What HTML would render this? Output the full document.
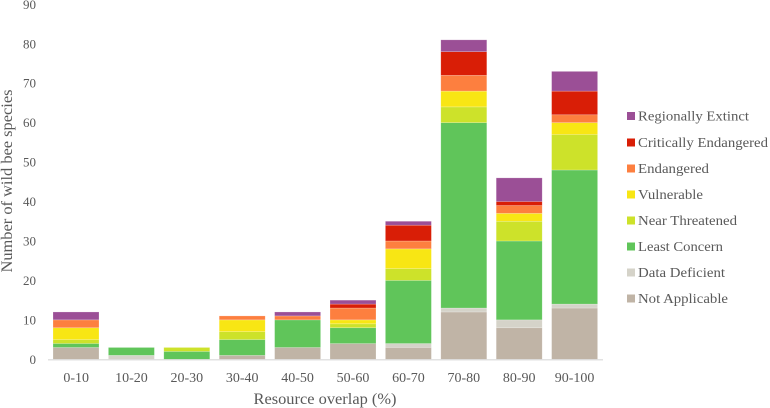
<!DOCTYPE html>
<html><head><meta charset="utf-8"><style>
html,body{margin:0;padding:0;background:#fff;}
svg{display:block;}
text{font-family:"Liberation Serif","Times New Roman",serif;fill:#595959;}
</style></head><body>
<svg width="770" height="408" viewBox="0 0 770 408" xmlns="http://www.w3.org/2000/svg">
<g font-size="13" text-anchor="end">
<text x="36" y="363.8">0</text>
<text x="36" y="324.4">10</text>
<text x="36" y="284.9">20</text>
<text x="36" y="245.5">30</text>
<text x="36" y="206.0">40</text>
<text x="36" y="166.6">50</text>
<text x="36" y="127.2">60</text>
<text x="36" y="87.7">70</text>
<text x="36" y="48.3">80</text>
<text x="36" y="8.8">90</text>
</g>
<text transform="translate(12,181) rotate(-90)" font-size="16" text-anchor="middle" textLength="183" lengthAdjust="spacingAndGlyphs">Number of wild bee species</text>
<g stroke="#ffffff" stroke-opacity="0.35" stroke-width="0.6">
<rect x="53" y="347.47" width="46" height="11.83" fill="#c0b4a6"/>
<rect x="53" y="343.52" width="46" height="3.94" fill="#60c55a"/>
<rect x="53" y="339.58" width="46" height="3.94" fill="#cde22a"/>
<rect x="53" y="327.75" width="46" height="11.83" fill="#f8e614"/>
<rect x="53" y="319.86" width="46" height="7.89" fill="#fd7f3f"/>
<rect x="53" y="311.97" width="46" height="7.89" fill="#9b4f96"/>
<rect x="108.4" y="355.36" width="46" height="3.94" fill="#d5d3c9"/>
<rect x="108.4" y="347.47" width="46" height="7.89" fill="#60c55a"/>
<rect x="163.8" y="351.41" width="46" height="7.89" fill="#60c55a"/>
<rect x="163.8" y="347.47" width="46" height="3.94" fill="#cde22a"/>
<rect x="219.2" y="355.36" width="46" height="3.94" fill="#c0b4a6"/>
<rect x="219.2" y="339.58" width="46" height="15.78" fill="#60c55a"/>
<rect x="219.2" y="331.69" width="46" height="7.89" fill="#cde22a"/>
<rect x="219.2" y="319.86" width="46" height="11.83" fill="#f8e614"/>
<rect x="219.2" y="315.92" width="46" height="3.94" fill="#fd7f3f"/>
<rect x="274.6" y="347.47" width="46" height="11.83" fill="#c0b4a6"/>
<rect x="274.6" y="319.86" width="46" height="27.61" fill="#60c55a"/>
<rect x="274.6" y="315.92" width="46" height="3.94" fill="#fd7f3f"/>
<rect x="274.6" y="311.97" width="46" height="3.94" fill="#9b4f96"/>
<rect x="330" y="343.52" width="46" height="15.78" fill="#c0b4a6"/>
<rect x="330" y="327.75" width="46" height="15.78" fill="#60c55a"/>
<rect x="330" y="323.80" width="46" height="3.94" fill="#cde22a"/>
<rect x="330" y="319.86" width="46" height="3.94" fill="#f8e614"/>
<rect x="330" y="308.03" width="46" height="11.83" fill="#fd7f3f"/>
<rect x="330" y="304.08" width="46" height="3.94" fill="#d91e06"/>
<rect x="330" y="300.14" width="46" height="3.94" fill="#9b4f96"/>
<rect x="385.4" y="347.47" width="46" height="11.83" fill="#c0b4a6"/>
<rect x="385.4" y="343.52" width="46" height="3.94" fill="#d5d3c9"/>
<rect x="385.4" y="280.42" width="46" height="63.10" fill="#60c55a"/>
<rect x="385.4" y="268.59" width="46" height="11.83" fill="#cde22a"/>
<rect x="385.4" y="248.87" width="46" height="19.72" fill="#f8e614"/>
<rect x="385.4" y="240.98" width="46" height="7.89" fill="#fd7f3f"/>
<rect x="385.4" y="225.20" width="46" height="15.78" fill="#d91e06"/>
<rect x="385.4" y="221.26" width="46" height="3.94" fill="#9b4f96"/>
<rect x="440.8" y="311.97" width="46" height="47.33" fill="#c0b4a6"/>
<rect x="440.8" y="308.03" width="46" height="3.94" fill="#d5d3c9"/>
<rect x="440.8" y="122.66" width="46" height="185.37" fill="#60c55a"/>
<rect x="440.8" y="106.88" width="46" height="15.78" fill="#cde22a"/>
<rect x="440.8" y="91.11" width="46" height="15.78" fill="#f8e614"/>
<rect x="440.8" y="75.33" width="46" height="15.78" fill="#fd7f3f"/>
<rect x="440.8" y="51.67" width="46" height="23.66" fill="#d91e06"/>
<rect x="440.8" y="39.84" width="46" height="11.83" fill="#9b4f96"/>
<rect x="496.2" y="327.75" width="46" height="31.55" fill="#c0b4a6"/>
<rect x="496.2" y="319.86" width="46" height="7.89" fill="#d5d3c9"/>
<rect x="496.2" y="240.98" width="46" height="78.88" fill="#60c55a"/>
<rect x="496.2" y="221.26" width="46" height="19.72" fill="#cde22a"/>
<rect x="496.2" y="213.37" width="46" height="7.89" fill="#f8e614"/>
<rect x="496.2" y="205.48" width="46" height="7.89" fill="#fd7f3f"/>
<rect x="496.2" y="201.54" width="46" height="3.94" fill="#d91e06"/>
<rect x="496.2" y="177.88" width="46" height="23.66" fill="#9b4f96"/>
<rect x="551.6" y="308.03" width="46" height="51.27" fill="#c0b4a6"/>
<rect x="551.6" y="304.08" width="46" height="3.94" fill="#d5d3c9"/>
<rect x="551.6" y="169.99" width="46" height="134.10" fill="#60c55a"/>
<rect x="551.6" y="134.49" width="46" height="35.50" fill="#cde22a"/>
<rect x="551.6" y="122.66" width="46" height="11.83" fill="#f8e614"/>
<rect x="551.6" y="114.77" width="46" height="7.89" fill="#fd7f3f"/>
<rect x="551.6" y="91.11" width="46" height="23.66" fill="#d91e06"/>
<rect x="551.6" y="71.39" width="46" height="19.72" fill="#9b4f96"/>
</g>
<line x1="48" y1="359.8" x2="603" y2="359.8" stroke="#d9d9d9" stroke-width="1.2"/>
<g font-size="14" text-anchor="middle">
<text x="76.2" y="382">0-10</text>
<text x="131.4" y="382">10-20</text>
<text x="186.8" y="382">20-30</text>
<text x="242.2" y="382">30-40</text>
<text x="297.6" y="382">40-50</text>
<text x="353" y="382">50-60</text>
<text x="408.4" y="382">60-70</text>
<text x="463.8" y="382">70-80</text>
<text x="519.2" y="382">80-90</text>
<text x="574.6" y="382">90-100</text>
</g>
<text x="325" y="404" font-size="16" text-anchor="middle" textLength="143" lengthAdjust="spacingAndGlyphs">Resource overlap (%)</text>
<g font-size="14">
<rect x="627" y="112" width="8" height="8" fill="#9b4f96"/>
<text x="638" y="120.5" textLength="111" lengthAdjust="spacingAndGlyphs">Regionally Extinct</text>
<rect x="627" y="138.5" width="8" height="8" fill="#d91e06"/>
<text x="638" y="147" textLength="130" lengthAdjust="spacingAndGlyphs">Critically Endangered</text>
<rect x="627" y="164.5" width="8" height="8" fill="#fd7f3f"/>
<text x="638" y="173" textLength="71" lengthAdjust="spacingAndGlyphs">Endangered</text>
<rect x="627" y="190.5" width="8" height="8" fill="#f8e614"/>
<text x="638" y="199" textLength="65" lengthAdjust="spacingAndGlyphs">Vulnerable</text>
<rect x="627" y="216.5" width="8" height="8" fill="#cde22a"/>
<text x="638" y="225" textLength="99" lengthAdjust="spacingAndGlyphs">Near Threatened</text>
<rect x="627" y="242.5" width="8" height="8" fill="#60c55a"/>
<text x="638" y="251" textLength="85" lengthAdjust="spacingAndGlyphs">Least Concern</text>
<rect x="627" y="268.5" width="8" height="8" fill="#d5d3c9"/>
<text x="638" y="277" textLength="87" lengthAdjust="spacingAndGlyphs">Data Deficient</text>
<rect x="627" y="294.5" width="8" height="8" fill="#c0b4a6"/>
<text x="638" y="303" textLength="90" lengthAdjust="spacingAndGlyphs">Not Applicable</text>
</g>
</svg>
</body></html>
